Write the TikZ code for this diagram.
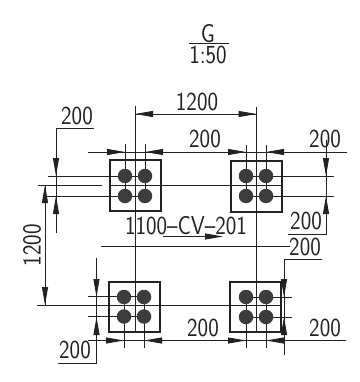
\documentclass[tikz,border=0pt]{standalone}
\usetikzlibrary{arrows.meta}
\definecolor{ink}{HTML}{222222}
\definecolor{dot}{HTML}{3C3C3C}
\newcommand{\dimtxt}[1]{\scalebox{0.86}[1]{\sffamily\fontsize{26}{26}\selectfont #1}}
\tikzset{
  ln/.style={draw=ink,line width=0.9pt},
  box/.style={draw=ink,line width=1.1pt},
  arw/.style={ln,-{Triangle[length=18pt,width=6pt,fill=ink]},shorten >=0pt},
  lbl/.style={inner sep=0pt,text=ink},
  bolt/.style={circle,fill=dot,draw=none,minimum size=14.5pt,inner sep=0pt},
}
\begin{document}
\begin{tikzpicture}[x=1pt,y=-1pt]
\useasboundingbox (0,0) rectangle (359,382);
% title
\node[lbl] (gname) at (208,34) {\dimtxt{G}};
\node[lbl] (gscale) at (208,54.5) {\dimtxt{1:50}};
\draw[ln] (189,43.5) -- (229,43.5);
% plates
\draw[box] (110,160) rectangle (161,211);
\draw[box] (231,161) rectangle (282,212);
\draw[box] (109,282) rectangle (160,332);
\draw[box] (230,282) rectangle (281,332);
% centre lines
\draw[ln] (135,106) -- (135,332);
\draw[ln] (256.5,107) -- (256.5,332);
\draw[ln] (38,185) -- (102,185);
\draw[ln] (110,185.5) -- (282,185.5);
\draw[ln] (37,305.5) -- (281,305.5);
% bolt lines, top
\draw[ln] (125,144) -- (125,196);
\draw[ln] (145,144) -- (145,196);
\draw[ln] (246,145) -- (246,196);
\draw[ln] (266,145) -- (266,196);
\draw[ln] (48,176) -- (145,176);
\draw[ln] (47,196) -- (145,196);
\draw[ln] (246,176.5) -- (334,176.5);
\draw[ln] (246,196.5) -- (334,196.5);
% bolt lines, bottom
\draw[ln] (124,297) -- (124,348);
\draw[ln] (144,297) -- (144,348);
\draw[ln] (246,297) -- (246,348);
\draw[ln] (266,297) -- (266,348);
\draw[ln] (88,296.5) -- (144,296.5);
\draw[ln] (88,316.5) -- (144,316.5);
\draw[ln] (246,297) -- (292,297);
\draw[ln] (246,317) -- (292,317);
% bolts
\foreach \bx/\by in {125/176,145/176,125/196,145/196,246/176,266/176,246/196,266/196,124/297,144/297,124/316.5,144/316.5,246/297,266/297,246/317,266/317}
  \node[bolt] at (\bx,\by) {};
% horizontal dimension lines
\draw[ln] (135,114) -- (256.5,114);
\draw[arw] (153,114) -- (135,114);
\draw[arw] (238.5,114) -- (256.5,114);
\draw[ln] (88,152) -- (347,152);
\draw[arw] (107,152) -- (125,152);
\draw[arw] (163,152) -- (145,152);
\draw[arw] (228,152) -- (246,152);
\draw[arw] (284,152) -- (266,152);
\draw[ln] (88,340.5) -- (346,340.5);
\draw[arw] (106,340.5) -- (124,340.5);
\draw[arw] (162,340.5) -- (144,340.5);
\draw[arw] (228,340.5) -- (246,340.5);
\draw[arw] (284,340.5) -- (266,340.5);
% left 200
\draw[ln] (94,128) -- (56,128) -- (56,233);
\draw[arw] (56,158) -- (56,176);
\draw[arw] (56,214) -- (56,196);
% left 1200
\draw[ln] (45,185) -- (45,305);
\draw[arw] (45,204) -- (45,185);
\draw[arw] (45,286) -- (45,305);
% right upper 200
\draw[ln] (288,234) -- (326,234) -- (326,140);
\draw[arw] (326,158) -- (326,176);
\draw[arw] (326,214) -- (326,196);
% right second 200 with leader
\draw[ln] (322,259) -- (284,259) -- (284,355);
\draw[arw] (284,279) -- (284,297);
\draw[arw] (284,335) -- (284,317);
% bottom-left 200
\draw[ln] (96.5,258) -- (96.5,363) -- (58,363);
\draw[arw] (96.5,279) -- (96.5,297);
\draw[arw] (96.5,335) -- (96.5,317);
% tag leader
\draw[ln] (101,246.5) -- (290,246.5);
\draw[arw] (163,236.5) -- (223,236.5);
% labels
\node[lbl] (t1200) at (197,102) {\dimtxt{1200}};
\node[lbl,rotate=90] (l1200) at (32,245) {\dimtxt{1200}};
\node[lbl] (a) at (77,116) {\dimtxt{200}};
\node[lbl] (b) at (205,139) {\dimtxt{200}};
\node[lbl] (c) at (325,139) {\dimtxt{200}};
\node[lbl] (d) at (306,221) {\dimtxt{200}};
\node[lbl] (e) at (305,247) {\dimtxt{200}};
\node[lbl] (f) at (203,328) {\dimtxt{200}};
\node[lbl] (g) at (325,328) {\dimtxt{200}};
\node[lbl] (h) at (75,350) {\dimtxt{200}};
\node[lbl] (tag) at (186,226) {\dimtxt{1100--CV--201}};
\end{tikzpicture}
\end{document}
